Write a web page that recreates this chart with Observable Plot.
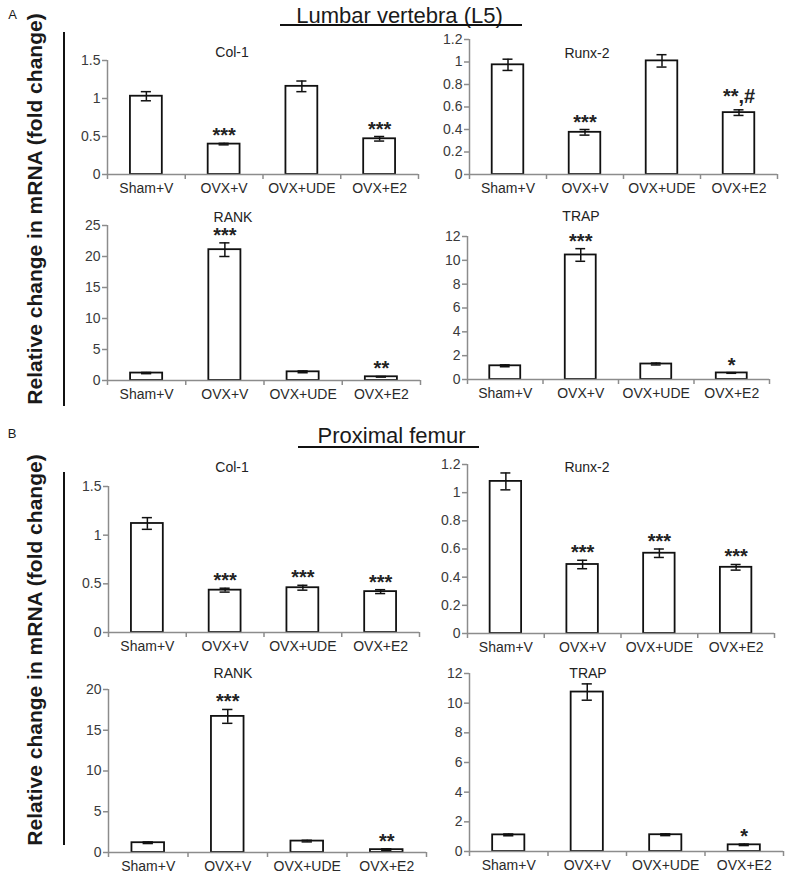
<!DOCTYPE html>
<html><head><meta charset="utf-8">
<script src="https://cdn.jsdelivr.net/npm/d3@7"></script>
<script src="https://cdn.jsdelivr.net/npm/@observablehq/plot@0.6"></script>
<style>
body{margin:0;background:#fff;}
#fig{position:relative;width:793px;height:880px;background:#fff;font-family:"Liberation Sans",Arial,sans-serif;color:#1a1a1a;overflow:hidden;}
.abs{position:absolute;white-space:nowrap;transform:translate(-50%,-50%);}
.plot{position:absolute;}
.ln{position:absolute;background:#111;}
</style></head><body><div id="fig"></div>
<script>
// ---------- data ----------
const categories = ["Sham+V", "OVX+V", "OVX+UDE", "OVX+E2"];

// A: Lumbar vertebra (L5)
const colA_mean  = [1.03, 0.40, 1.16, 0.47];
const colA_err   = [0.06, 0.01, 0.07, 0.03];
const colA_sig   = ["", "***", "", "***"];
const runxA_mean = [0.975, 0.375, 1.01, 0.55];
const runxA_err  = [0.05, 0.025, 0.055, 0.025];
const runxA_sig  = ["", "***", "", "**,#"];
const rankA_mean = [1.2, 21.1, 1.4, 0.6];
const rankA_err  = [0.1, 1.1, 0.15, 0.05];
const rankA_sig  = ["", "***", "", "**"];
const trapA_mean = [1.15, 10.45, 1.3, 0.55];
const trapA_err  = [0.08, 0.53, 0.08, 0.03];
const trapA_sig  = ["", "***", "", "*"];

// B: Proximal femur
const colB_mean  = [1.12, 0.435, 0.46, 0.42];
const colB_err   = [0.06, 0.02, 0.025, 0.02];
const colB_sig   = ["", "***", "***", "***"];
const runxB_mean = [1.08, 0.49, 0.57, 0.47];
const runxB_err  = [0.06, 0.03, 0.03, 0.02];
const runxB_sig  = ["", "***", "***", "***"];
const rankB_mean = [1.2, 16.7, 1.4, 0.35];
const rankB_err  = [0.1, 0.85, 0.1, 0.1];
const rankB_sig  = ["", "***", "", "**"];
const trapB_mean = [1.12, 10.75, 1.13, 0.45];
const trapB_err  = [0.06, 0.55, 0.06, 0.05];
const trapB_sig  = ["", "", "", "*"];

// tick values and labels
const colTicks   = [0, 0.5, 1, 1.5];
const colLabels  = ["0", "0.5", "1", "1.5"];
const runxTicks  = [0, 0.2, 0.4, 0.6, 0.8, 1, 1.2];
const runxLabels = ["0", "0.2", "0.4", "0.6", "0.8", "1", "1.2"];
const rankATicks = [0, 5, 10, 15, 20, 25];
const rankALabels= ["0", "5", "10", "15", "20", "25"];
const rankBTicks = [0, 5, 10, 15, 20];
const rankBLabels= ["0", "5", "10", "15", "20"];
const trapTicks  = [0, 2, 4, 6, 8, 10, 12];
const trapLabels = ["0", "2", "4", "6", "8", "10", "12"];

const panelTitles = ["Col-1", "Runx-2", "RANK", "TRAP"];
const sectionTitles = ["Lumbar vertebra (L5)", "Proximal femur"];
const sectionLetters = ["A", "B"];
const yLabel = "Relative change in mRNA (fold change)";

// ---------- layout ----------
const fig = document.getElementById("fig");
const FONT = '"Liberation Sans", Arial, sans-serif';

function addText(txt, x, y, size, opts = {}) {
  const d = document.createElement("div");
  d.className = "abs";
  d.textContent = txt;
  d.style.left = x + "px"; d.style.top = y + "px";
  d.style.fontSize = size + "px"; d.style.lineHeight = size + "px";
  if (opts.bold) d.style.fontWeight = "bold";
  if (opts.color) d.style.color = opts.color;
  if (opts.rotate) d.style.transform = "translate(-50%,-50%) rotate(-90deg)";
  fig.appendChild(d);
}
function addLine(x, y, w, h) {
  const d = document.createElement("div");
  d.className = "ln";
  d.style.left = x + "px"; d.style.top = y + "px";
  d.style.width = w + "px"; d.style.height = h + "px";
  fig.appendChild(d);
}

const ML = 45, MR = 12, MT = 12, MB = 32;
const AXIS = "#8c8c8c";

function panel(cfg) {
  const {mean, err, sig, ticks, labels, axisX, right, yTop, y0, title, tx, ty} = cfg;
  const data = categories.map((c, i) => ({cat: c, pos: i + 0.5, mean: mean[i], err: err[i], sig: sig[i]}));
  const W = right - axisX + ML + MR;
  const H = y0 - yTop + MT + MB;
  const chart = Plot.plot({
    width: W, height: H,
    marginLeft: ML, marginRight: MR, marginTop: MT, marginBottom: MB,
    style: {fontFamily: FONT, fontSize: "14px", background: "transparent", overflow: "visible"},
    x: {domain: [0, 4], label: null, axis: null},
    y: {domain: [0, ticks[ticks.length - 1]], label: null, axis: null},
    marks: [
      Plot.rectY(data, {x1: d => d.pos - 0.205, x2: d => d.pos + 0.205, y: "mean",
        fill: "white", stroke: "#111", strokeWidth: 1.8}),
      Plot.ruleX(data, {x: "pos", y1: d => d.mean - d.err, y2: d => d.mean + d.err, stroke: "#111", strokeWidth: 1.5}),
      Plot.ruleY(data, {y: d => d.mean + d.err, x1: d => d.pos - 0.065, x2: d => d.pos + 0.065, stroke: "#111", strokeWidth: 1.5}),
      Plot.ruleY(data, {y: d => d.mean - d.err, x1: d => d.pos - 0.065, x2: d => d.pos + 0.065, stroke: "#111", strokeWidth: 1.5}),
      Plot.ruleY([0], {stroke: AXIS, strokeWidth: 1.5}),
      Plot.ruleX([0], {stroke: AXIS, strokeWidth: 1.5}),
      Plot.axisY({ticks, tickFormat: d => labels[ticks.indexOf(d)], tickSize: 5, tickPadding: 2,
        stroke: AXIS, strokeWidth: 1.5, fill: "#3a3a3a", fontSize: 14}),
      Plot.axisX({ticks: [0, 1, 2, 3, 4], tickSize: 5, tickFormat: () => "", stroke: AXIS, strokeWidth: 1.5}),
      Plot.axisX({ticks: [0.5, 1.5, 2.5, 3.5], tickSize: 0, tickPadding: 9,
        tickFormat: d => categories[Math.floor(d)], fill: "#2a2a2a", fontSize: 14}),
      Plot.text(data.filter(d => d.sig && !d.sig.includes("#")), {x: "pos", y: d => d.mean + d.err, text: "sig",
        lineAnchor: "bottom", dy: -1, fontSize: 20, fontWeight: "bold", fill: "#222"}),
      Plot.text(data.filter(d => d.sig && d.sig.includes("#")), {x: "pos", y: d => d.mean + d.err, text: "sig",
        lineAnchor: "bottom", dy: -7, fontSize: 20, fontWeight: "bold", fill: "#222"})
    ]
  });
  chart.classList.add("plot");
  chart.style.left = (axisX - ML) + "px";
  chart.style.top = (yTop - MT) + "px";
  fig.appendChild(chart);
  addText(title, tx, ty, 14, {color: "#222"});
}

// section A
addText(sectionLetters[0], 12.5, 14, 13);
addText(sectionTitles[0], 399.5, 15.5, 22);
addLine(280, 24, 242, 1.6);
addLine(63, 32, 2, 374);
addText(yLabel, 34, 209, 21, {bold: true, rotate: true});

panel({mean: colA_mean, err: colA_err, sig: colA_sig, ticks: colTicks, labels: colLabels,
  axisX: 107, right: 418, yTop: 60, y0: 174, title: panelTitles[0], tx: 232, ty: 52});
panel({mean: runxA_mean, err: runxA_err, sig: runxA_sig, ticks: runxTicks, labels: runxLabels,
  axisX: 469, right: 777, yTop: 39, y0: 174, title: panelTitles[1], tx: 587, ty: 53});
panel({mean: rankA_mean, err: rankA_err, sig: rankA_sig, ticks: rankATicks, labels: rankALabels,
  axisX: 107, right: 420, yTop: 225, y0: 380, title: panelTitles[2], tx: 233, ty: 217});
panel({mean: trapA_mean, err: trapA_err, sig: trapA_sig, ticks: trapTicks, labels: trapLabels,
  axisX: 467, right: 769, yTop: 236, y0: 379, title: panelTitles[3], tx: 581, ty: 216});

// section B
addText(sectionLetters[1], 12, 433, 13);
addText(sectionTitles[1], 391.5, 435.5, 22);
addLine(298, 446, 181, 1.6);
addLine(63, 472, 2, 373);
addText(yLabel, 34, 650, 21, {bold: true, rotate: true});

panel({mean: colB_mean, err: colB_err, sig: colB_sig, ticks: colTicks, labels: colLabels,
  axisX: 108, right: 419, yTop: 486, y0: 632, title: panelTitles[0], tx: 232, ty: 467});
panel({mean: runxB_mean, err: runxB_err, sig: runxB_sig, ticks: runxTicks, labels: runxLabels,
  axisX: 467, right: 774, yTop: 464, y0: 633, title: panelTitles[1], tx: 587, ty: 467});
panel({mean: rankB_mean, err: rankB_err, sig: rankB_sig, ticks: rankBTicks, labels: rankBLabels,
  axisX: 108, right: 426, yTop: 689, y0: 852, title: panelTitles[2], tx: 233, ty: 673});
panel({mean: trapB_mean, err: trapB_err, sig: trapB_sig, ticks: trapTicks, labels: trapLabels,
  axisX: 469, right: 783, yTop: 673, y0: 851, title: panelTitles[3], tx: 588, ty: 673});
</script>
</body></html>
